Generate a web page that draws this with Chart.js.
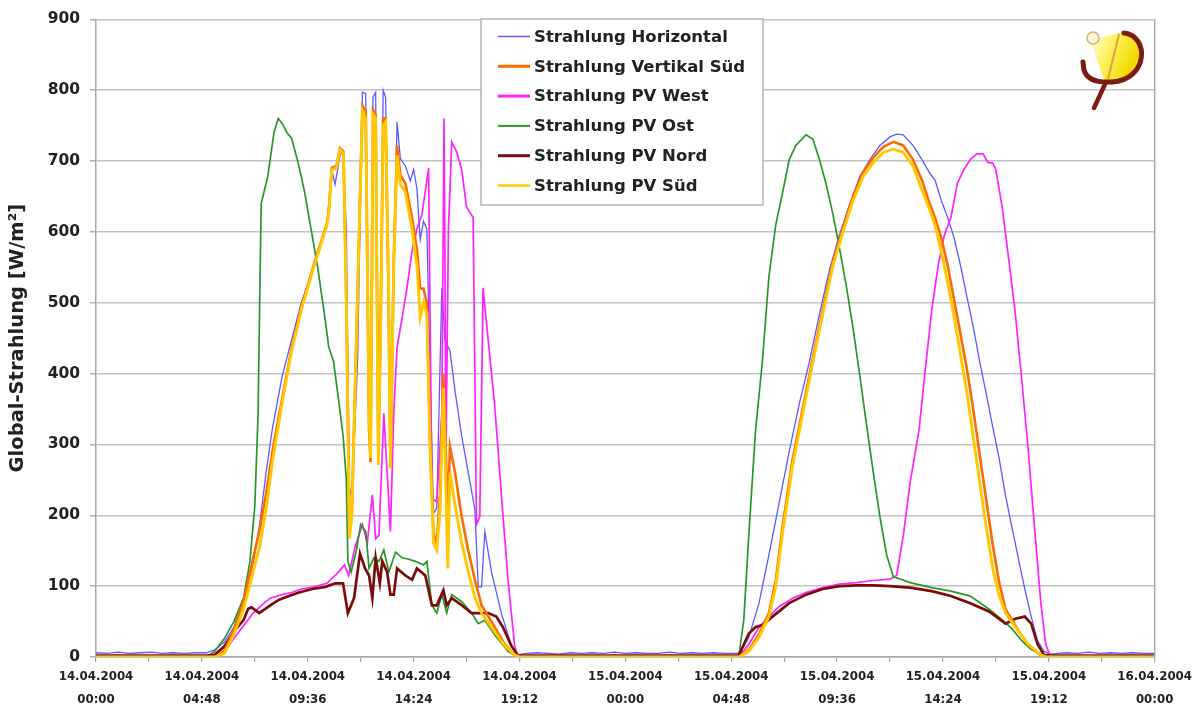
<!DOCTYPE html>
<html>
<head>
<meta charset="utf-8">
<script src="https://cdn.jsdelivr.net/npm/chart.js@4.4.1/dist/chart.umd.min.js"></script>
<style>
html,body{margin:0;padding:0;background:#fff}
#wrap{width:1196px;height:708px;position:relative}
</style>
</head>
<body>
<div id="wrap"><canvas id="myChart"></canvas></div>
<script>
// [hours since 14.04.2004 00:00, W/m²]
const horizontal = [[0,6],[0.5,5],[1,7],[1.5,5],[2,6],[2.5,7],[3,5],[3.5,6],[4,5],[4.5,6],[5,6],[5.38,10],[5.82,21],[6.25,42],[6.69,83],[7.13,133],[7.42,187],[7.71,260],[8.0,323],[8.44,396],[8.87,448],[9.31,500],[9.89,552],[10.47,609],[10.69,688],[10.84,667],[11.06,708],[11.2,714],[11.35,604],[11.49,240],[11.6,224],[11.86,417],[12.08,797],[12.23,795],[12.38,380],[12.45,300],[12.56,790],[12.68,797],[12.8,300],[12.9,470],[13.02,800],[13.13,790],[13.25,560],[13.35,290],[13.5,560],[13.65,755],[13.8,703],[14.03,693],[14.25,672],[14.4,688],[14.55,661],[14.7,589],[14.85,615],[15.0,604],[15.15,400],[15.3,203],[15.45,210],[15.68,521],[15.82,448],[16.05,432],[16.28,375],[16.58,312],[16.88,260],[17.18,208],[17.33,99],[17.48,99],[17.63,177],[17.93,120],[18.38,62],[18.83,16],[19.13,3],[19.5,5],[20,6],[20.5,5],[21,4],[21.5,6],[22,5],[22.5,6],[23,5],[23.5,7],[24,5],[24.5,6],[25,5],[25.5,5],[26,7],[26.5,5],[27,6],[27.5,5],[28,6],[28.5,5],[29.14,5],[29.3,12],[29.6,28],[30.06,76],[30.51,144],[30.97,217],[31.43,290],[31.89,358],[32.34,416],[32.8,484],[33.26,547],[33.71,596],[34.17,639],[34.63,678],[35.09,702],[35.54,722],[36.0,734],[36.3,738],[36.6,737],[37.04,722],[37.45,702],[37.82,682],[38.04,673],[38.33,644],[38.62,620],[38.91,591],[39.2,552],[39.49,508],[39.78,465],[40.07,416],[40.36,372],[40.66,324],[40.95,280],[41.24,227],[41.53,183],[41.82,139],[42.11,96],[42.4,57],[42.69,23],[42.98,8],[43.27,4],[43.6,5],[44,6],[44.5,5],[45,7],[45.5,5],[46,6],[46.5,5],[47,6],[47.5,5],[48,5]];

const vertikalSued = [[0,0],[5.0,0],[5.38,0],[5.82,8],[6.25,38],[6.69,78],[7.13,140],[7.42,180],[7.71,230],[8.0,290],[8.44,365],[8.87,436],[9.31,493],[9.89,555],[10.47,612],[10.55,628],[10.69,690],[10.9,693],[11.06,718],[11.22,713],[11.35,500],[11.49,175],[11.6,205],[11.85,505],[12.08,778],[12.23,770],[12.38,320],[12.45,275],[12.56,772],[12.68,765],[12.8,290],[12.9,455],[13.02,760],[13.13,760],[13.25,540],[13.35,270],[13.5,560],[13.65,722],[13.8,680],[14.03,668],[14.33,620],[14.55,575],[14.7,520],[14.85,520],[15.0,500],[15.15,300],[15.3,175],[15.45,160],[15.6,230],[15.75,400],[15.85,300],[15.95,200],[16.05,297],[16.28,260],[16.58,198],[16.88,150],[17.18,109],[17.48,73],[17.93,50],[18.53,18],[18.98,3],[19.2,0],[29.14,0],[29.6,10],[30.06,32],[30.51,62],[30.82,108],[31.12,182],[31.58,278],[32.04,350],[32.5,422],[32.95,490],[33.41,557],[33.87,605],[34.32,650],[34.78,684],[35.24,705],[35.7,720],[36.15,727],[36.6,722],[37.04,702],[37.45,673],[37.75,644],[38.04,620],[38.33,591],[38.62,552],[38.91,503],[39.2,455],[39.49,406],[39.78,348],[40.07,285],[40.36,222],[40.66,158],[40.95,105],[41.24,67],[41.53,52],[41.82,37],[42.26,18],[42.69,6],[43.0,0],[48,0]];

const pvWest = [[0,0],[5.0,0],[5.38,0],[5.82,8],[6.25,26],[6.69,44],[7.13,62],[7.5,73],[7.9,83],[8.44,88],[8.87,91],[9.31,96],[9.89,99],[10.47,104],[10.9,117],[11.27,130],[11.45,115],[11.6,135],[11.75,156],[12.08,187],[12.3,161],[12.53,229],[12.68,167],[12.83,172],[13.05,344],[13.2,260],[13.35,177],[13.5,344],[13.65,437],[13.88,479],[14.1,521],[14.33,573],[14.55,604],[14.78,625],[15.08,690],[15.23,224],[15.45,219],[15.68,344],[15.78,760],[15.87,292],[15.98,604],[16.13,727],[16.35,713],[16.58,688],[16.8,635],[17.1,620],[17.25,187],[17.4,198],[17.55,521],[17.78,448],[18.08,354],[18.38,229],[18.68,109],[18.98,16],[19.13,0],[29.14,0],[29.6,18],[30.06,42],[30.51,57],[30.97,71],[31.58,83],[32.19,91],[32.95,98],[33.71,103],[34.48,105],[35.24,108],[36.0,110],[36.3,115],[36.61,173],[36.91,246],[37.31,319],[37.6,406],[37.89,489],[38.18,552],[38.47,596],[38.76,620],[39.05,668],[39.35,688],[39.64,702],[39.93,710],[40.22,710],[40.44,698],[40.66,697],[40.8,688],[41.09,634],[41.38,562],[41.68,485],[41.97,392],[42.26,295],[42.55,183],[42.84,76],[43.06,18],[43.27,1],[48,0]];

const pvOst = [[0,0],[5.0,0],[5.38,8],[5.82,26],[6.25,50],[6.69,83],[6.98,135],[7.2,213],[7.35,344],[7.42,500],[7.49,640],[7.78,677],[8.07,740],[8.26,760],[8.44,753],[8.66,740],[8.87,732],[9.16,698],[9.46,656],[9.75,604],[10.04,552],[10.33,490],[10.55,438],[10.77,417],[10.99,365],[11.2,313],[11.35,250],[11.42,135],[11.57,120],[11.8,150],[12.0,187],[12.23,177],[12.38,125],[12.6,140],[12.83,135],[13.05,151],[13.28,120],[13.58,148],[13.88,140],[14.18,138],[14.48,135],[14.85,130],[15.0,135],[15.23,73],[15.45,62],[15.68,88],[15.9,62],[16.13,88],[16.58,78],[17.03,62],[17.33,47],[17.63,52],[18.08,31],[18.68,8],[19.13,0],[29.14,1],[29.37,52],[29.6,173],[29.9,319],[30.21,416],[30.51,537],[30.82,610],[31.12,654],[31.43,702],[31.73,722],[32.19,737],[32.5,731],[32.8,702],[33.1,668],[33.41,625],[33.71,577],[34.02,523],[34.32,465],[34.63,397],[34.93,329],[35.24,261],[35.54,198],[35.85,144],[36.15,113],[36.46,110],[36.91,105],[37.89,98],[38.76,93],[39.64,86],[40.51,67],[41.1,52],[41.53,40],[41.97,23],[42.4,11],[42.84,3],[43.1,0],[48,0]];

const pvNord = [[0,2],[5.0,2],[5.38,3],[5.82,15],[6.25,36],[6.69,52],[6.9,68],[7.05,70],[7.4,62],[7.9,73],[8.3,81],[8.75,86],[9.2,91],[9.8,96],[10.4,99],[10.85,104],[11.2,104],[11.42,62],[11.7,83],[11.97,146],[12.2,125],[12.38,115],[12.53,83],[12.68,140],[12.87,104],[12.98,135],[13.2,120],[13.35,88],[13.5,88],[13.65,125],[14.03,115],[14.33,109],[14.55,125],[14.93,115],[15.23,73],[15.45,73],[15.75,94],[15.9,73],[16.13,83],[16.58,73],[17.03,62],[17.4,62],[17.78,62],[18.15,57],[18.45,42],[18.83,16],[19.13,2],[29.14,2],[29.6,33],[29.9,42],[30.21,45],[30.67,57],[31.43,76],[32.19,88],[32.95,96],[33.71,100],[34.48,101],[35.24,101],[36.0,100],[36.91,98],[37.89,93],[38.76,86],[39.64,76],[40.51,64],[41.24,47],[41.68,54],[42.11,57],[42.4,47],[42.69,18],[42.98,3],[43.27,2],[48,2]];

const pvSued = [[0,0],[5.0,0],[5.38,0],[5.82,5],[6.25,31],[6.69,68],[7.13,120],[7.42,156],[7.71,208],[8.0,276],[8.44,359],[8.87,432],[9.31,490],[9.89,552],[10.47,609],[10.55,625],[10.69,688],[10.9,690],[11.06,716],[11.22,711],[11.35,500],[11.49,167],[11.6,200],[11.85,500],[12.08,771],[12.23,760],[12.38,344],[12.45,281],[12.56,766],[12.68,760],[12.8,271],[12.9,448],[13.02,750],[13.13,755],[13.25,552],[13.35,266],[13.5,552],[13.65,708],[13.8,667],[14.03,656],[14.33,604],[14.55,552],[14.7,479],[14.85,500],[15.0,484],[15.15,292],[15.3,161],[15.45,151],[15.6,208],[15.75,380],[15.85,255],[15.95,125],[16.05,260],[16.28,214],[16.58,161],[16.88,120],[17.18,83],[17.48,62],[17.93,42],[18.53,16],[18.98,3],[19.2,0],[29.14,0],[29.6,8],[30.06,28],[30.51,57],[30.82,100],[31.12,173],[31.58,270],[32.04,343],[32.5,416],[32.95,484],[33.41,552],[33.87,600],[34.32,644],[34.78,678],[35.24,698],[35.7,712],[36.15,717],[36.6,712],[37.04,693],[37.45,659],[37.75,635],[38.04,610],[38.33,571],[38.62,528],[38.91,479],[39.2,426],[39.49,372],[39.78,309],[40.07,246],[40.36,183],[40.66,125],[40.95,86],[41.24,62],[41.68,42],[42.26,18],[42.84,3],[43.1,0],[48,0]];

const seriesNames = ['Strahlung Horizontal', 'Strahlung Vertikal Süd', 'Strahlung PV West', 'Strahlung PV Ost', 'Strahlung PV Nord', 'Strahlung PV Süd'];
const seriesData = [horizontal, vertikalSued, pvWest, pvOst, pvNord, pvSued];
const seriesColors = ['#5a5aff', '#ff6a00', '#ff22ff', '#2a962a', '#7a0c0c', '#ffc800'];
const lineWidths = [1.3, 2.6, 1.7, 1.7, 2.7, 2.9];
const legendWidths = [1.5, 3, 3, 2, 3, 2.5];
const drawOrder = [5, 1, 4, 3, 2, 0];

const FONT = '"DejaVu Sans", sans-serif';

const datasets = seriesNames.map((name, i) => ({
  label: name,
  data: seriesData[i].map(p => ({x: p[0], y: p[1]})),
  borderColor: seriesColors[i],
  backgroundColor: seriesColors[i],
  borderWidth: lineWidths[i],
  pointRadius: 0,
  tension: 0,
  fill: false,
  order: drawOrder[i]
}));

function pad2(n) { return String(n).padStart(2, '0'); }

const extras = {
  id: 'extras',
  afterDatasetsDraw(chart) {
    const ctx = chart.ctx;
    const a = chart.chartArea;
    ctx.save();
    // right border of plot area
    ctx.strokeStyle = '#a8a8a8';
    ctx.lineWidth = 1.5;
    ctx.beginPath();
    ctx.moveTo(a.right, a.top);
    ctx.lineTo(a.right, a.bottom);
    ctx.stroke();

    // legend box
    const bx = 481, by = 19, bw = 282, bh = 186;
    ctx.fillStyle = '#fff';
    ctx.fillRect(bx, by, bw, bh);
    ctx.strokeStyle = '#b4b4b4';
    ctx.lineWidth = 1.5;
    ctx.strokeRect(bx, by, bw, bh);
    ctx.font = 'bold 16.5px ' + FONT;
    ctx.textBaseline = 'middle';
    ctx.textAlign = 'left';
    seriesNames.forEach((name, i) => {
      const y = 36.5 + i * 29.8;
      ctx.strokeStyle = seriesColors[i];
      ctx.lineWidth = legendWidths[i];
      ctx.beginPath();
      ctx.moveTo(498, y);
      ctx.lineTo(530, y);
      ctx.stroke();
      ctx.fillStyle = '#222';
      ctx.fillText(name, 534, y + 1);
    });

    // logo
    const grad = ctx.createLinearGradient(1092, 40, 1135, 60);
    grad.addColorStop(0, '#fffbd0');
    grad.addColorStop(0.45, '#fff15a');
    grad.addColorStop(1, '#f2d800');
    ctx.fillStyle = grad;
    ctx.beginPath();
    ctx.moveTo(1090, 40);
    ctx.lineTo(1123, 32);
    ctx.bezierCurveTo(1146, 36, 1146, 76, 1112, 81);
    ctx.lineTo(1104, 80);
    ctx.closePath();
    ctx.fill();
    ctx.strokeStyle = '#e0a040';
    ctx.lineWidth = 2;
    ctx.beginPath();
    ctx.moveTo(1119, 34);
    ctx.lineTo(1108, 79);
    ctx.stroke();
    ctx.strokeStyle = '#7b1c0e';
    ctx.lineWidth = 5;
    ctx.lineCap = 'round';
    ctx.beginPath();
    ctx.moveTo(1124, 33);
    ctx.bezierCurveTo(1150, 36, 1148, 80, 1112, 82);
    ctx.stroke();
    ctx.beginPath();
    ctx.moveTo(1083, 62);
    ctx.lineTo(1084, 70);
    ctx.quadraticCurveTo(1088, 83, 1110, 82);
    ctx.stroke();
    ctx.lineWidth = 4.5;
    ctx.beginPath();
    ctx.moveTo(1106, 82);
    ctx.lineTo(1094, 108);
    ctx.stroke();
    ctx.fillStyle = '#fff8d8';
    ctx.strokeStyle = '#d8b070';
    ctx.lineWidth = 1.5;
    ctx.beginPath();
    ctx.arc(1093, 38, 6, 0, Math.PI * 2);
    ctx.fill();
    ctx.stroke();
    ctx.restore();
  }
};

new Chart(document.getElementById('myChart'), {
  type: 'line',
  data: { datasets },
  options: {
    responsive: true,
    maintainAspectRatio: false,
    animation: false,
    parsing: true,
    layout: { padding: { left: 0, top: 19, right: 41, bottom: 0 } },
    plugins: { legend: { display: false }, tooltip: { enabled: false } },
    scales: {
      x: {
        type: 'linear',
        min: 0,
        max: 48,
        afterFit(scale) { scale.height = 51; },
        grid: { drawOnChartArea: false, tickLength: 5, color: '#a8a8a8', lineWidth: 1.2 },
        border: { color: '#a8a8a8', width: 1.5 },
        ticks: {
          stepSize: 2.4,
          autoSkip: false,
          maxRotation: 0,
          minRotation: 0,
          padding: 4,
          color: '#222',
          font: { family: FONT, size: 11.8, weight: 'bold', lineHeight: 1.9 },
          callback(v) {
            const m = Math.round(v * 60);
            if (m % 288 !== 0) return '';
            const day = 14 + Math.floor(m / 1440);
            const hm = m % 1440;
            return [pad2(day) + '.04.2004', pad2(Math.floor(hm / 60)) + ':' + pad2(hm % 60)];
          }
        }
      },
      y: {
        min: 0,
        max: 900,
        afterFit(scale) { scale.width = 96; },
        grid: { color: '#c2c2c2', lineWidth: 1.5, tickLength: 6, tickColor: '#b0b0b0' },
        border: { color: '#a8a8a8', width: 1.5 },
        ticks: {
          stepSize: 100,
          padding: 10,
          color: '#222',
          font: { family: FONT, size: 15.5, weight: 'bold' }
        },
        title: {
          display: true,
          text: 'Global-Strahlung [W/m²]',
          color: '#222',
          font: { family: FONT, size: 19.5, weight: 'bold' },
          padding: { top: 6, bottom: 0 }
        }
      }
    }
  },
  plugins: [extras]
});
</script>
</body>
</html>
